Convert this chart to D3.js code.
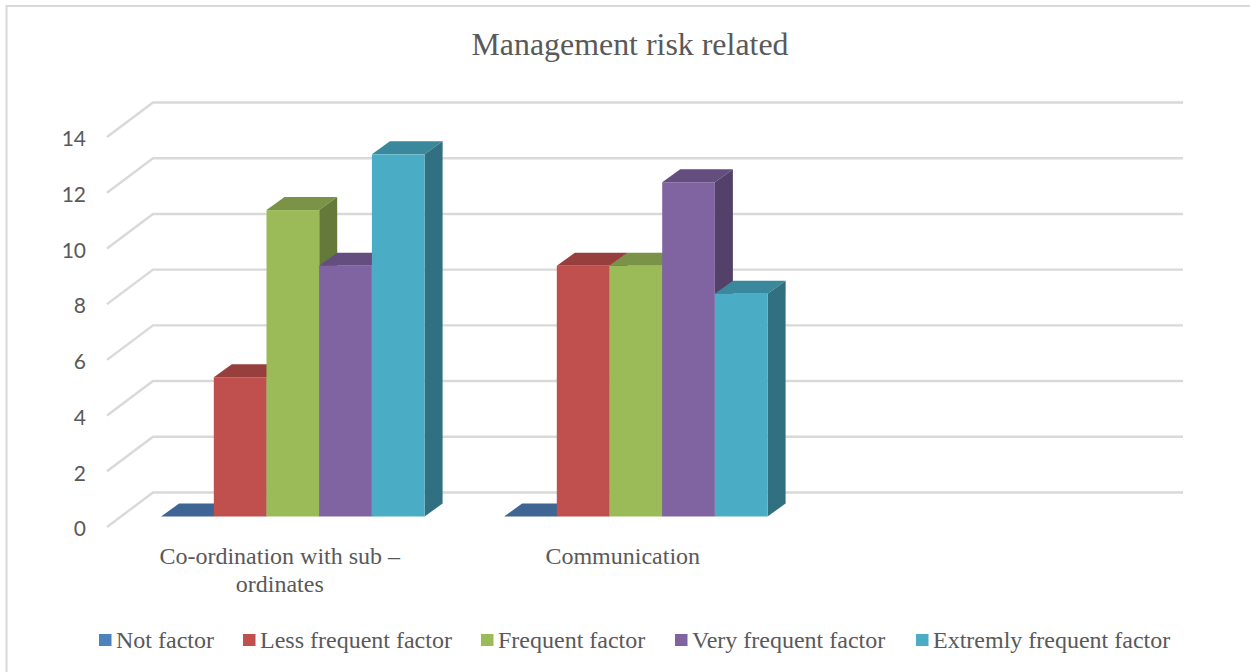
<!DOCTYPE html>
<html><head><meta charset="utf-8">
<script src="https://cdnjs.cloudflare.com/ajax/libs/d3/7.8.5/d3.min.js"></script>
<style>html,body{margin:0;padding:0;background:#fff}svg{display:block}</style>
</head><body><svg id="c" width="1250" height="672"></svg>
<script>
const titleText = "Management risk related";
const categories = [["Co-ordination with sub –","ordinates"],["Communication"]];
const categoryKeys = ["Co-ordination with sub – ordinates","Communication",""];
const seriesNames = ["Not factor","Less frequent factor","Frequent factor","Very frequent factor","Extremly frequent factor"];
const notFactor = [0,0];
const lessFrequent = [5,9];
const frequent = [11,9];
const veryFrequent = [9,12];
const extremelyFrequent = [13,8];
const seriesValues = [notFactor,lessFrequent,frequent,veryFrequent,extremelyFrequent];
const frontColors = ["#4f81bd","#c0504d","#9bbb59","#8064a2","#4bacc6"];
const yTicks = [0,2,4,6,8,10,12,14];

const svg = d3.select("#c");
const serif = "'Liberation Serif'";
const ink = "#595959";

// frame
svg.append("path").attr("d","M6.5,672V6H1250").attr("fill","none").attr("stroke","#d9d9d9").attr("stroke-width",2);

svg.append("text").attr("x",630).attr("y",55).attr("text-anchor","middle")
  .attr("font-family",serif).attr("font-size",31.9).attr("fill",ink).text(titleText);

const y = d3.scaleLinear().domain([0,14]).range([516.5,126.5]);
const x0 = d3.scaleBand().domain(categoryKeys).range([121.75,1150.75]).paddingInner(0.2318).paddingOuter(0.1159);
const x1 = d3.scaleBand().domain(seriesNames).range([0,x0.bandwidth()]);

// walls
const wallFrontX = 107, wallBackX = 153, wallRightX = 1183, backDy = -24, frontDy = 10.5;
const grid = svg.append("g").attr("fill","none").attr("stroke","#d9d9d9").attr("stroke-width",2.4);
yTicks.forEach(t=>{
  grid.append("path").attr("d",
   `M${wallFrontX},${y(t)+frontDy}L${wallBackX},${y(t)+backDy}H${wallRightX}`);
});

// tick labels via axis
const axis = svg.append("g").attr("transform",`translate(86,${frontDy+2})`)
  .call(d3.axisLeft(y).tickValues(yTicks).tickSize(0).tickPadding(0));
axis.select(".domain").remove();
axis.selectAll("text").attr("font-family","Lato").attr("font-size",21).attr("fill",ink);

// bars
const depthX = 18, depthY = -13;
const bars = svg.append("g");
categories.forEach((c,ci)=>{
  seriesNames.forEach((s,si)=>{
    const v = seriesValues[si][ci];
    const X = x0(categoryKeys[ci]) + x1(s) - 0.4, W = x1.bandwidth(), T = y(v), B = y(0);
    const col = d3.color(frontColors[si]);
    const g = bars.append("g");
    g.append("path").attr("fill",col.darker(0.68).toString()).attr("d",
      `M${X},${T}l${depthX},${depthY}h${W}l${-depthX},${-depthY}Z`);
    if(v>0){
      g.append("path").attr("fill",col.darker(1.2).toString()).attr("d",
        `M${X+W},${T}l${depthX},${depthY}V${B+depthY}l${-depthX},${-depthY}Z`);
      g.append("rect").attr("x",X).attr("y",T).attr("width",W).attr("height",B-T).attr("fill",col.toString());
    }
  });
});

// category labels
categories.forEach((lines,i)=>{
  const cx = x0(categoryKeys[i]) + x0.bandwidth()/2 - 13.5;
  lines.forEach((t,j)=>{
    svg.append("text").attr("x",cx).attr("y",563.5+j*28).attr("text-anchor","middle")
      .attr("font-family",serif).attr("font-size",24).attr("fill",ink).text(t);
  });
});

// legend
const legendX = [99,243,481,675,916];
seriesNames.forEach((s,i)=>{
  svg.append("rect").attr("x",legendX[i]).attr("y",634).attr("width",12.5).attr("height",12).attr("fill",frontColors[i]);
  svg.append("text").attr("x",legendX[i]+17).attr("y",648).attr("font-family",serif).attr("font-size",24).attr("fill",ink).text(s);
});
</script></body></html>
